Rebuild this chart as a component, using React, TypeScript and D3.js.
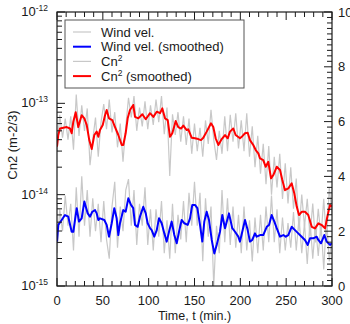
import * as d3 from "d3";
import { useEffect, useRef } from "react";

// Cn2 values are stored in units of 1e-14 m^-2/3
const CN2_UNIT = 1e-14;

// raw samples, every 3 min
const rawTimes = [
  0, 3, 6, 9, 12, 15, 18, 21, 24, 27, 30, 33, 36, 39, 42, 45, 48, 51, 54, 57,
  60, 63, 66, 69, 72, 75, 78, 81, 84, 87, 90, 93, 96, 99, 102, 105, 108, 111,
  114, 117, 120, 123, 126, 129, 132, 135, 138, 141, 144, 147, 150, 153, 156,
  159, 162, 165, 168, 171, 174, 177, 180, 183, 186, 189, 192, 195, 198, 201,
  204, 207, 210, 213, 216, 219, 222, 225, 228, 231, 234, 237, 240, 243, 246,
  249, 252, 255, 258, 261, 264, 267, 270, 273, 276, 279, 282, 285, 288, 291,
  294, 297, 300,
];

const cn2Raw = [
  3.0, 7.5, 4.2, 6.8, 4.0, 7.2, 3.1, 12.5, 4.4, 9.5, 5.0, 8.8, 2.1, 4.0, 7.0,
  2.6, 6.2, 9.8, 5.2, 11.0, 4.8, 8.0, 3.3, 6.0, 2.3, 5.5, 11.5, 7.0, 12.0, 5.0,
  9.0, 5.6, 10.5, 5.2, 9.5, 5.8, 11.0, 6.2, 12.0, 4.6, 9.0, 1.6, 7.6, 4.5, 8.0,
  3.8, 7.2, 3.5, 6.8, 2.8, 6.0, 3.0, 5.4, 2.6, 6.5, 3.6, 8.5, 4.0, 2.4, 5.0,
  2.8, 7.2, 3.0, 7.5, 3.8, 7.8, 3.2, 6.5, 3.0, 7.8, 2.6, 5.6, 2.0, 4.4, 1.7,
  3.6, 1.3, 3.4, 1.0, 2.6, 1.2, 2.8, 0.9, 2.2, 0.8, 2.0, 0.7, 1.5, 0.4, 1.0,
  0.45, 0.9, 0.35, 0.8, 0.3, 0.7, 0.35, 0.9, 0.3, 1.2, 0.6,
];

const windRaw = [
  1.2, 2.8, 2.0, 3.3, 2.2, 3.0, 1.3, 3.6, 1.8, 4.0, 2.2, 3.5, 1.8, 3.2, 2.0,
  3.0, 1.6, 3.1, 1.7, 1.0, 2.9, 3.8, 1.4, 2.9, 2.0, 3.5, 3.9, 2.2, 3.5, 1.5,
  3.0, 2.2, 3.6, 1.5, 2.8, 1.3, 2.8, 1.8, 3.1, 1.2, 2.4, 1.0, 3.0, 1.2, 2.6,
  1.7, 3.1, 1.6, 3.4, 2.2, 3.8, 2.2, 3.4, 0.9, 3.2, 1.8, 2.9, 0.0, 2.2, 1.2,
  3.5, 1.6, 3.2, 1.5, 2.9, 1.4, 2.6, 1.2, 2.9, 1.3, 2.4, 0.9, 2.5, 1.2, 2.6,
  1.3, 2.9, 1.6, 3.3, 1.6, 2.8, 1.2, 2.5, 1.3, 2.3, 1.4, 2.7, 1.3, 2.5, 1.2,
  2.3, 0.8, 2.4, 1.0, 2.2, 1.1, 2.3, 0.6, 2.5, 0.9, 1.8,
];

// smoothed curves: [time (min), value]
const cn2Smooth: [number, number][] = [
  [0, 3.35], [1.4, 4.5], [3.3, 5.3], [6.9, 5.4], [10.6, 5.5], [14.2, 5.3],
  [16, 4.7], [17.8, 6.3], [20.4, 8.0], [23.2, 5.5], [26.9, 7.4], [29.8, 6.85],
  [32.4, 5.8], [35.2, 3.96], [37.9, 3.16], [40.7, 4.5], [43.3, 4.9],
  [45.1, 4.3], [46.9, 5.1], [49.9, 5.8], [52.4, 7.4], [54.2, 8.45],
  [56.7, 6.85], [60.3, 6.56], [63.3, 5.5], [66.9, 4.5], [70.6, 3.5],
  [72.3, 3.5], [74.9, 4.7], [77.1, 6.85], [79.6, 8.45], [83.2, 9.6],
  [85.1, 7.1], [88.7, 6.85], [93.1, 7.6], [96.8, 6.7], [101.5, 7.8],
  [105.1, 7.1], [108.8, 8.1], [112.4, 7.8], [114.9, 8.8], [117.8, 6.85],
  [120.8, 6.56], [123.3, 4.3], [125.8, 4.7], [129.5, 6.4], [132.3, 5.5],
  [135.3, 5.3], [137.8, 5.7], [141.5, 5.1], [143.2, 5.2], [146.9, 4.2],
  [150.5, 4.14], [154.1, 4.06], [157.1, 3.96], [159.6, 4.2], [163.3, 4.9],
  [168, 6.04], [170.5, 5.5], [173.1, 4.14], [176, 3.5], [179.7, 4.06],
  [183.3, 4.5], [186.2, 4.14], [188.7, 4.9], [192.3, 5.3], [194.9, 4.5],
  [199.6, 4.14], [201.5, 4.3], [205.1, 4.7], [208, 4.77], [210.5, 3.96],
  [214.1, 3.5], [216.8, 3.08], [219.6, 2.83], [221.5, 2.5], [225, 2.39],
  [227.7, 2.02], [230.5, 2.29], [233.5, 1.51], [236, 1.64], [239.7, 2.02],
  [243.3, 1.86], [245.8, 1.445], [248.7, 1.12], [252.3, 1.17], [256, 1.33],
  [258.9, 1.03], [261.5, 0.74], [264, 0.598], [266.9, 0.65], [270.5, 0.65],
  [274.1, 0.598], [277.9, 0.445], [281.5, 0.427], [285.1, 0.485],
  [288.8, 0.465], [292.4, 0.427], [295.3, 0.598], [297.8, 0.77], [300, 0.74],
];

const windSmooth: [number, number][] = [
  [0, 1.62], [1.4, 2.23], [5.1, 2.41], [8.7, 2.59], [12.3, 2.53], [16, 1.98],
  [17.8, 1.98], [21.5, 2.84], [24, 2.35], [26.9, 2.47], [29.8, 3.08],
  [33.5, 2.65], [36, 2.53], [38.5, 2.71], [41.5, 2.77], [43.3, 2.65],
  [45.1, 2.41], [46.9, 2.47], [51.6, 2.41], [54.2, 2.23], [56.7, 1.8],
  [59.7, 2.29], [62.5, 2.84], [65.1, 2.47], [66.9, 1.86], [68.7, 2.29],
  [72.3, 2.77], [74.9, 2.71], [77.8, 3.2], [80.7, 2.96], [83.2, 2.84],
  [85.1, 2.23], [88, 2.16], [90.5, 2.53], [94.1, 2.89], [96.8, 2.65],
  [98.9, 2.29], [101.5, 2.11], [103.3, 2.04], [106.1, 1.8], [108.8, 2.04],
  [111.3, 2.47], [114.2, 2.29], [117.1, 1.92], [119.7, 1.62], [122.2, 1.98],
  [125.1, 2.35], [128, 1.86], [130.6, 1.56], [133.1, 1.98], [136, 2.41],
  [138.9, 2.29], [142.6, 2.23], [145.1, 2.47], [147.6, 2.96], [150.5, 2.96],
  [153.1, 2.84], [156, 2.23], [158.5, 1.62], [160.7, 2.35], [163.3, 2.71],
  [165.8, 2.41], [168.8, 1.68], [171.6, 1.19], [174.2, 1.5], [177.8, 1.98],
  [180.3, 2.59], [183.3, 2.11], [187.6, 2.65], [191.2, 2.11], [194.2, 1.98],
  [197.8, 1.8], [199.6, 1.62], [202.1, 1.98], [205.1, 2.41], [208, 2.04],
  [210.5, 1.62], [213, 1.68], [216, 1.92], [217.8, 1.8], [221.5, 1.86],
  [225, 1.86], [228.8, 2.16], [231.3, 2.23], [234.2, 2.59], [237.1, 2.35],
  [239.7, 2.11], [243.3, 1.8], [246.9, 1.86], [249.5, 1.8], [252.3, 1.86],
  [256, 2.16], [259.6, 2.04], [263.2, 1.92], [266.9, 1.8], [270.5, 1.68],
  [273.5, 1.5], [276, 1.74], [279.6, 1.74], [283.3, 1.8], [285.1, 1.68],
  [288, 1.56], [291.6, 1.86], [294.2, 1.62], [297.8, 1.5], [300, 1.56],
];

const xTickLabels = [0, 50, 100, 150, 200, 250, 300];
const leftDecades = [-15, -14, -13, -12];
const rightTickLabels = [0, 2, 4, 6, 8, 10];

const legendItems = [
  { label: "Wind vel.", sup: "", suffix: "", color: "#c8c8c8", width: 1.2 },
  { label: "Wind vel. (smoothed)", sup: "", suffix: "", color: "#0000ff", width: 2 },
  { label: "Cn", sup: "2", suffix: "", color: "#c8c8c8", width: 1.2 },
  { label: "Cn", sup: "2", suffix: " (smoothed)", color: "#ff0000", width: 2 },
];

export default function App() {
  const ref = useRef<SVGSVGElement | null>(null);

  useEffect(() => {
    if (!ref.current) return;
    const svg = d3.select(ref.current);
    svg.selectAll("*").remove();

    const left = 57, right = 332, top = 12, bottom = 286;
    const font = "'Liberation Sans', Arial, sans-serif";
    const ink = "#1a1a1a";

    const x = d3.scaleLinear().domain([0, 300]).range([left, right]);
    const yL = d3.scaleLog().domain([1e-15, 1e-12]).range([bottom, top]);
    const yR = d3.scaleLinear().domain([0, 10]).range([bottom, top]);

    svg.append("rect").attr("width", 350).attr("height", 324).attr("fill", "#fff");

    svg.append("clipPath").attr("id", "plot-clip")
      .append("rect")
      .attr("x", left).attr("y", top)
      .attr("width", right - left).attr("height", bottom - top);

    const plot = svg.append("g").attr("clip-path", "url(#plot-clip)");

    const windLine = d3.line<[number, number]>()
      .x((d) => x(d[0]))
      .y((d) => yR(d[1]));
    const cn2Line = d3.line<[number, number]>()
      .x((d) => x(d[0]))
      .y((d) => yL(d[1] * CN2_UNIT));

    const windRawPts: [number, number][] = rawTimes.map((t, i) => [t, windRaw[i]]);
    const cn2RawPts: [number, number][] = rawTimes.map((t, i) => [t, cn2Raw[i]]);

    plot.append("path").attr("d", windLine(windRawPts))
      .attr("fill", "none").attr("stroke", "#c8c8c8").attr("stroke-width", 1.2);
    plot.append("path").attr("d", cn2Line(cn2RawPts))
      .attr("fill", "none").attr("stroke", "#c8c8c8").attr("stroke-width", 1.2);
    plot.append("path").attr("d", windLine(windSmooth))
      .attr("fill", "none").attr("stroke", "#0000ff").attr("stroke-width", 2)
      .attr("stroke-linejoin", "round");
    plot.append("path").attr("d", cn2Line(cn2Smooth))
      .attr("fill", "none").attr("stroke", "#ff0000").attr("stroke-width", 2)
      .attr("stroke-linejoin", "round");

    // ticks (all pointing inward)
    const ticks = svg.append("g").attr("stroke", ink).attr("stroke-width", 1);
    const major = 8, minor = 5;

    d3.range(0, 301, 10).forEach((t) => {
      const len = t % 50 === 0 ? major : minor;
      ticks.append("line").attr("x1", x(t)).attr("x2", x(t))
        .attr("y1", bottom).attr("y2", bottom - len);
      ticks.append("line").attr("x1", x(t)).attr("x2", x(t))
        .attr("y1", top).attr("y2", top + len);
    });

    yL.ticks().forEach((v) => {
      const isMajor = Math.abs(Math.log10(v) - Math.round(Math.log10(v))) < 1e-6;
      const len = isMajor ? major : minor;
      ticks.append("line").attr("x1", left).attr("x2", left + len)
        .attr("y1", yL(v)).attr("y2", yL(v));
    });

    d3.range(0, 51).forEach((i) => {
      const v = i * 0.2;
      const len = i % 10 === 0 ? major : minor;
      ticks.append("line").attr("x1", right).attr("x2", right - len)
        .attr("y1", yR(v)).attr("y2", yR(v));
    });

    svg.append("rect")
      .attr("x", left).attr("y", top)
      .attr("width", right - left).attr("height", bottom - top)
      .attr("fill", "none").attr("stroke", ink).attr("stroke-width", 1.2);

    // tick labels
    svg.selectAll("text.xt").data(xTickLabels).enter().append("text")
      .attr("class", "xt")
      .attr("x", (d) => x(d)).attr("y", 305)
      .attr("text-anchor", "middle")
      .style("font-family", font).style("font-size", "13px").attr("fill", ink)
      .text((d) => String(d));

    const lt = svg.selectAll("text.lt").data(leftDecades).enter().append("text")
      .attr("class", "lt")
      .attr("x", 48).attr("y", (d) => yL(Math.pow(10, d)) + 4)
      .attr("text-anchor", "end")
      .style("font-family", font).style("font-size", "13px").attr("fill", ink);
    lt.append("tspan").text("10");
    lt.append("tspan").attr("dy", -5).style("font-size", "8.5px").text((d) => `-${-d}`);

    svg.selectAll("text.rt").data(rightTickLabels).enter().append("text")
      .attr("class", "rt")
      .attr("x", 338).attr("y", (d) => yR(d) + 4.5)
      .style("font-family", font).style("font-size", "13px").attr("fill", ink)
      .text((d) => String(d));

    // axis titles
    svg.append("text")
      .attr("x", (left + right) / 2).attr("y", 320)
      .attr("text-anchor", "middle")
      .style("font-family", font).style("font-size", "12.5px").attr("fill", ink)
      .text("Time, t (min.)");

    svg.append("text")
      .attr("transform", "translate(17,145) rotate(-90)")
      .attr("text-anchor", "middle")
      .style("font-family", font).style("font-size", "13px").attr("fill", ink)
      .text("Cn2 (m-2/3)");

    // legend
    const lg = svg.append("g");
    lg.append("rect")
      .attr("x", 65).attr("y", 20).attr("width", 179).attr("height", 68)
      .attr("fill", "#fff").attr("stroke", "#555").attr("stroke-width", 1);

    legendItems.forEach((item, i) => {
      const cy = 32 + i * 14.7;
      lg.append("line")
        .attr("x1", 73).attr("x2", 91).attr("y1", cy).attr("y2", cy)
        .attr("stroke", item.color).attr("stroke-width", item.width);
      const tx = lg.append("text")
        .attr("x", 101).attr("y", cy + 4.5)
        .style("font-family", font).style("font-size", "13px").attr("fill", ink);
      tx.append("tspan").text(item.label);
      if (item.sup) {
        tx.append("tspan").attr("dy", -5).style("font-size", "8.5px").text(item.sup);
        if (item.suffix) tx.append("tspan").attr("dy", 5).text(item.suffix);
      }
    });
  }, []);

  return (
    <svg
      ref={ref}
      width={350}
      height={324}
      style={{ position: "absolute", left: 0, top: 0, display: "block" }}
    ></svg>
  );
}
